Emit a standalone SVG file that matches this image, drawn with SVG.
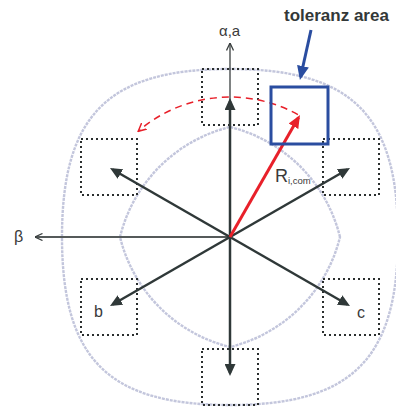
<svg xmlns="http://www.w3.org/2000/svg" width="396" height="411" viewBox="0 0 396 411">
<style>
.hull{fill:none;stroke:#c3c6dc;stroke-width:2.4;stroke-dasharray:3 1}
.box{fill:none;stroke:#2a2e2e;stroke-width:2;stroke-dasharray:2 3}
.vec{stroke:#2f3838;stroke-width:2.5;fill:none}
.thin{stroke:#3a3f3f;stroke-width:1.3;fill:none}
.lbl{font-family:"Liberation Sans",Arial,sans-serif;fill:#3a3a3a}
</style>
<defs>
<marker id="ah" viewBox="0 0 12 11" refX="9" refY="5.5" markerWidth="12" markerHeight="11" markerUnits="userSpaceOnUse" orient="auto"><path d="M0,0 L12,5.5 L0,11 z" fill="#2f3838"/></marker>
<marker id="ahr" viewBox="0 0 13 11" refX="10" refY="5.5" markerWidth="13" markerHeight="11" markerUnits="userSpaceOnUse" orient="auto"><path d="M0,0 L13,5.5 L0,11 z" fill="#e8202a"/></marker>
<marker id="ahb" viewBox="0 0 14 12" refX="11" refY="6" markerWidth="14" markerHeight="12" markerUnits="userSpaceOnUse" orient="auto"><path d="M0,0 L14,6 L0,12 z" fill="#2a4da0"/></marker>
<marker id="open" viewBox="0 0 8 8" refX="7.5" refY="4" markerWidth="8" markerHeight="8" markerUnits="userSpaceOnUse" orient="auto"><path d="M0,0.5 L7.5,4 L0,7.5" fill="none" stroke="#3a3f3f" stroke-width="1.3"/></marker>
<marker id="openr" viewBox="0 0 9 9" refX="8" refY="4.5" markerWidth="9" markerHeight="9" markerUnits="userSpaceOnUse" orient="auto"><path d="M0,0.5 L8,4.5 L0,8.5" fill="none" stroke="#e8202a" stroke-width="1.5"/></marker>
</defs>
<rect width="396" height="411" fill="#fff"/>
<g id="outer-hull"><path class="hull" d="M398,237 C398,115 352,69 230,69 C108,69 62,115 62,237 C62,359 108,405 230,405 C352,405 398,359 398,237 Z"/></g>
<g id="inner-hull"><path class="hull" d="M340,237 A150,150 0 0 0 230,127 A150,150 0 0 0 120,237 A150,150 0 0 0 230,347 A150,150 0 0 0 340,237 Z"/></g>
<g id="box-top"><rect class="box" x="202" y="69" width="56" height="56"/></g>
<g id="box-ul"><rect class="box" x="81" y="139" width="56" height="56"/></g>
<g id="box-ur"><rect class="box" x="323" y="139" width="56" height="56"/></g>
<g id="box-ll"><rect class="box" x="81" y="279" width="56" height="56"/><text class="lbl" x="94" y="317" font-size="16">b</text></g>
<g id="box-lr"><rect class="box" x="323" y="279" width="56" height="56"/><text class="lbl" x="357" y="318" font-size="16">c</text></g>
<g id="box-bottom"><rect class="box" x="202" y="349" width="56" height="56"/></g>
<g id="connectors">
<line class="thin" x1="230" y1="100" x2="230" y2="43" marker-end="url(#open)"/>
<line x1="230" y1="237" x2="35" y2="237" stroke="#555a5a" stroke-width="1.8" marker-end="url(#open)"/>
<line class="vec" x1="230" y1="237" x2="230" y2="101" stroke-width="3.3" marker-end="url(#ah)"/>
<line class="vec" x1="230" y1="237" x2="230" y2="373" stroke-width="3.3" marker-end="url(#ah)"/>
<line class="vec" x1="230" y1="237" x2="112.6" y2="169.5" marker-end="url(#ah)"/>
<line class="vec" x1="230" y1="237" x2="347.4" y2="169.5" marker-end="url(#ah)"/>
<line class="vec" x1="230" y1="237" x2="112.6" y2="304.5" marker-end="url(#ah)"/>
<line class="vec" x1="230" y1="237" x2="347.4" y2="304.5" marker-end="url(#ah)"/>
<path d="M297.9,114.6 A140,140 0 0 0 138.2,131.3" fill="none" stroke="#e8202a" stroke-width="1.5" stroke-dasharray="7 5" marker-end="url(#openr)"/>
<line x1="230" y1="237" x2="298.5" y2="117.6" stroke="#e8202a" stroke-width="3" marker-end="url(#ahr)"/>
<line x1="311" y1="30" x2="300.6" y2="77" stroke="#2a4da0" stroke-width="3" marker-end="url(#ahb)"/>
</g>
<g id="tolerance-area"><rect x="271" y="87" width="57" height="57" fill="none" stroke="#2a4da0" stroke-width="3"/></g>
<g id="labels">
<text class="lbl" x="219" y="36" font-size="15">α,a</text>
<text class="lbl" x="14" y="242" font-size="16">β</text>
<text class="lbl" x="275" y="182" font-size="18">R<tspan font-size="9.5" dy="2">i,com</tspan></text>
<text x="284" y="21" font-family="'Liberation Sans',Arial,sans-serif" font-weight="bold" font-size="17" fill="#333838">toleranz area</text>
</g>
</svg>
